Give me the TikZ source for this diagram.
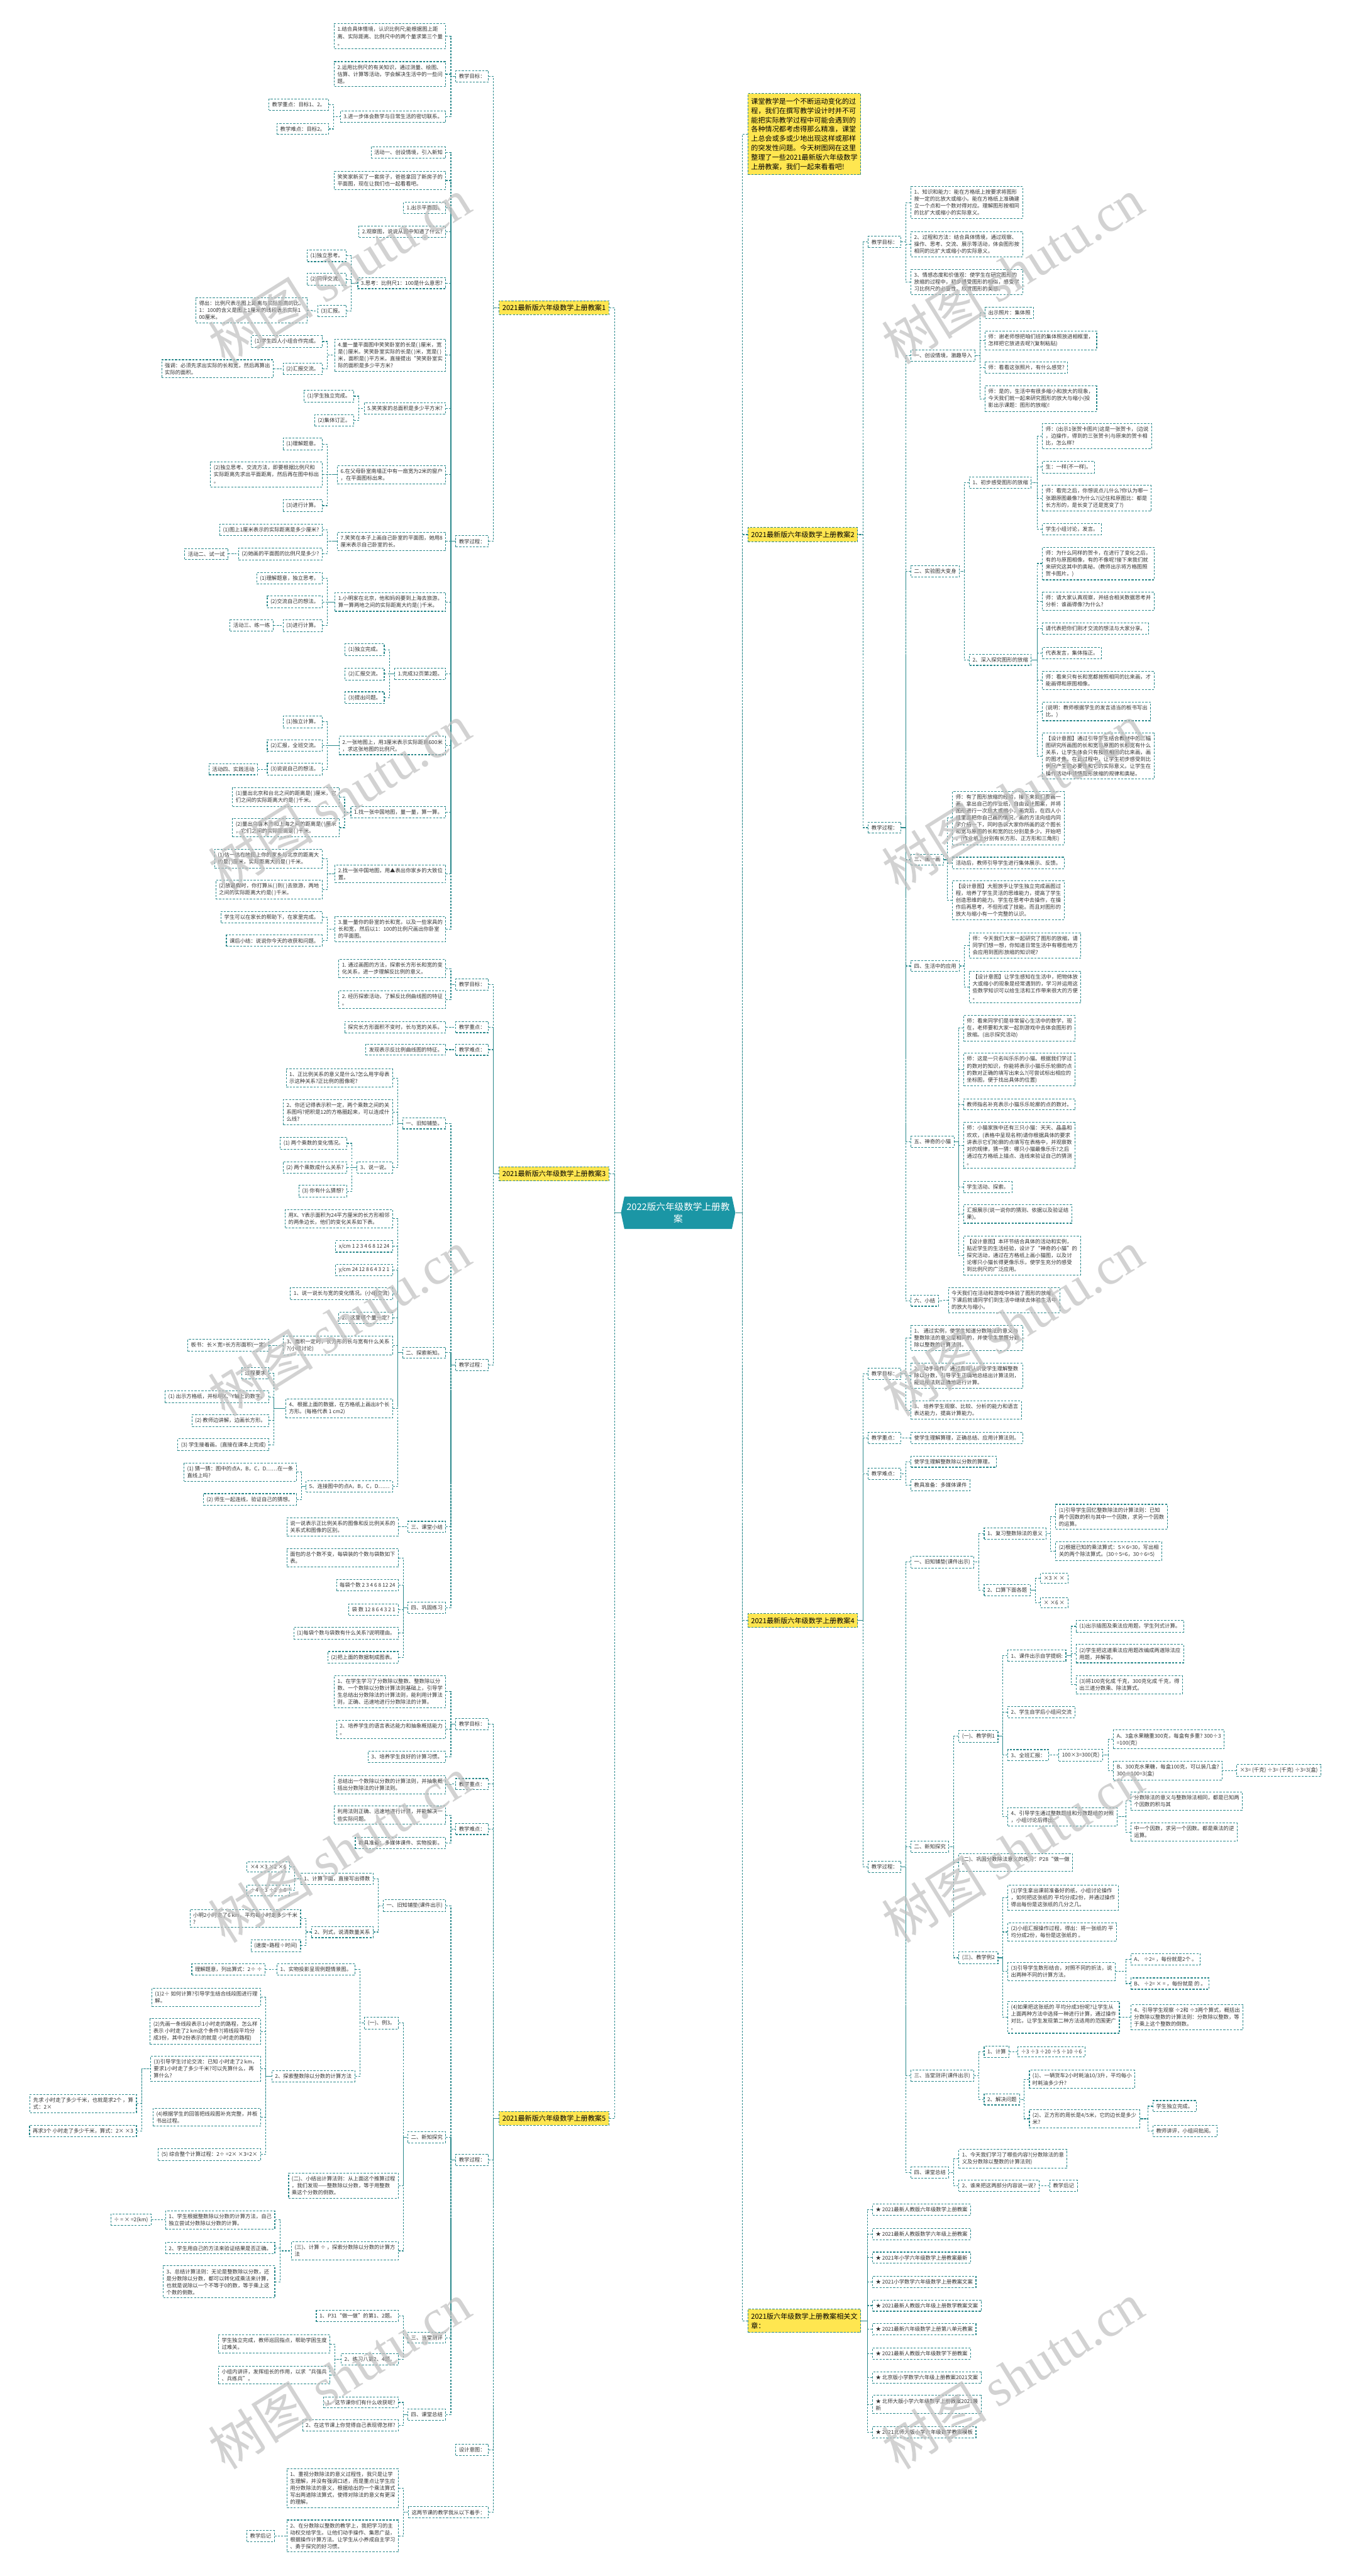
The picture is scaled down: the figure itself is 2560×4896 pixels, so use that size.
\documentclass[tikz,border=0pt]{standalone}
\usepackage{fontspec}
\setmainfont{Noto Sans CJK SC}
\newfontfamily\wmserif{Liberation Serif}
\usetikzlibrary{shapes.symbols}
\definecolor{lk}{HTML}{2A898C}
\definecolor{hl}{HTML}{FFE650}
\definecolor{rt}{HTML}{1B96A5}
\definecolor{tx}{HTML}{333333}
\tikzset{
  link/.style={draw=lk,line width=1.3pt,dash pattern=on 3.5pt off 2.5pt},
  box/.style={draw=lk,line width=1.3pt,dash pattern=on 4pt off 2.5pt,fill=white,text=tx,align=left,inner xsep=6pt,inner ysep=6pt,font=\fontsize{10}{13.2}\selectfont},
  lbox/.style={box,anchor=east},
  rbox/.style={box,anchor=west},
  tag/.style={box,fill=hl,text=black,inner ysep=7pt,font=\fontsize{13.3}{17.9}\selectfont},
  root/.style={shape=signal,signal to=west and east,signal pointer angle=156,fill=rt,text=white,align=center,inner xsep=4pt,inner ysep=11pt,font=\fontsize{17.5}{23.3}\selectfont},
  wm/.style={text=black!25,text opacity=0.7,rotate=32,font=\fontsize{100}{100}\selectfont}
}
\begin{document}
\begin{tikzpicture}[x=1pt,y=-1pt]
\fill[white] (0,0) rectangle (2560,4896);
\useasboundingbox (0,0) rectangle (2560,4896);
\node[root] (root) at (1289,2305) {2022版六年级数学上册教\\案};
% left: 教案1
\node[tag,anchor=east] (L1) at (1158,585) {2021最新版六年级数学上册教案1};
\node[lbox] (L1a) at (929,145) {教学目标：};
\node[lbox] (L1b) at (929,1029) {教学过程：};
\node[lbox] (L1a1) at (848,69) {1.结合具体情境，认识比例尺;能根据图上距\\离、实际距离、比例尺中的两个量求第三个量\\。};
\node[lbox] (L1a2) at (848,141) {2.运用比例尺的有关知识，通过测量、绘图、\\估算、计算等活动，学会解决生活中的一些问\\题。};
\node[lbox] (L1a3) at (848,222) {3.进一步体会数学与日常生活的密切联系。};
\node[lbox] (L1a3a) at (625,199) {教学重点：目标1、2。};
\node[lbox] (L1a3b) at (625,245) {教学难点：目标2。};
\node[lbox] (L1b1) at (848,290) {活动一、创设情境，引入新知};
\node[lbox] (L1b2) at (848,343) {笑笑家新买了一套房子，爸爸拿回了新房子的\\平面图，现在让我们也一起看看吧。};
\node[lbox] (L1b3) at (848,395) {1.出示平面图。};
\node[lbox] (L1b4) at (848,440) {2.观察图，说说从图中知道了什么?};
\node[lbox] (L1b5) at (848,538) {3.思考：比例尺1：100是什么意思?};
\node[lbox] (L1b5a) at (659,486) {(1)独立思考。};
\node[lbox] (L1b5b) at (659,531) {(2)同伴交流。};
\node[lbox] (L1b5c) at (659,591) {(3)汇报。};
\node[lbox] (L1b5d) at (585,590) {得出：比例尺表示图上距离与实际距离的比。\\1：100的含义是图上1厘米的线段表示实际1\\00厘米。};
\node[lbox] (L1b6) at (848,675) {4.量一量平面图中笑笑卧室的长是( )厘米，宽\\是( )厘米。笑笑卧室实际的长是( )米，宽是( )\\米，面积是( )平方米。直接提出“笑笑卧室实\\际的面积是多少平方米?};
\node[lbox] (L1b6a) at (613,649) {(1)学生四人小组合作完成。};
\node[lbox] (L1b6b) at (613,701) {(2)汇报交流。};
\node[lbox] (L1b6c) at (520,701) {强调：必须先求出实际的长和宽，然后再算出\\实际的面积。};
\node[lbox] (L1b7) at (848,776) {5.笑笑家的总面积是多少平方米?};
\node[lbox] (L1b7a) at (673,753) {(1)学生独立完成。};
\node[lbox] (L1b7b) at (673,799) {(2)集体订正。};
\node[lbox] (L1b8) at (848,902) {6.在父母卧室南墙正中有一扇宽为2米的窗户\\，在平面图标出来。};
\node[lbox] (L1b8a) at (613,844) {(1)理解题意。};
\node[lbox] (L1b8b) at (613,902) {(2)独立思考、交流方法，即要根据比例尺和\\实际距离先求出平面距离，然后再在图中标出\\。};
\node[lbox] (L1b8c) at (613,961) {(3)进行计算。};
\node[lbox] (L1b9) at (848,1029) {7.笑笑在本子上画自己卧室的平面图，她用8\\厘米表示自己卧室的长。};
\node[lbox] (L1b9a) at (613,1007) {(1)图上1厘米表示的实际距离是多少厘米?};
\node[lbox] (L1b9b) at (613,1053) {(2)她画的平面图的比例尺是多少?};
\node[lbox] (L1b9c) at (434,1053) {活动二、试一试};
\node[lbox] (L1b10) at (848,1144) {1.小明家在北京，他和妈妈要到上海去旅游。\\算一算两地之间的实际距离大约是( )千米。};
\node[lbox] (L1b10a) at (613,1099) {(1)理解题意，独立思考。};
\node[lbox] (L1b10b) at (613,1144) {(2)交流自己的想法。};
\node[lbox] (L1b10c) at (613,1189) {(3)进行计算。};
\node[lbox] (L1b10d) at (520,1189) {活动三、练一练};
\node[lbox] (L1b11) at (848,1281) {1.完成32页第2题。};
\node[lbox] (L1b11a) at (731,1235) {(1)独立完成。};
\node[lbox] (L1b11b) at (731,1281) {(2)汇报交流。};
\node[lbox] (L1b11c) at (731,1326) {(3)提出问题。};
\node[lbox] (L1b12) at (848,1417) {2.一张地图上，用3厘米表示实际距离600米\\，求这张地图的比例尺。};
\node[lbox] (L1b12a) at (613,1372) {(1)独立计算。};
\node[lbox] (L1b12b) at (613,1417) {(2)汇报，全班交流。};
\node[lbox] (L1b12c) at (613,1462) {(3)说说自己的想法。};
\node[lbox] (L1b12d) at (490,1462) {活动四、实践活动};
\node[lbox] (L1b13) at (848,1544) {1.找一张中国地图，量一量，算一算。};
\node[lbox] (L1b13a) at (646,1515) {(1)量出北京和台北之间的距离是( )厘米，它\\们之间的实际距离大约是( )千米。};
\node[lbox] (L1b13b) at (646,1573) {(2)量出乌鲁木齐和上海之间的距离是( )厘米\\，它们之间的实际距离是( )千米。};
\node[lbox] (L1b14) at (848,1661) {2.找一张中国地图，用▲表出你家乡的大致位\\置。};
\node[lbox] (L1b14a) at (613,1632) {(1)估一估在地图上你的家乡与北京的距离大\\约是( )厘米，实际距离大约是( )千米。};
\node[lbox] (L1b14b) at (613,1691) {(2)放暑假时，你打算从( )到( )去旅游，两地\\之间的实际距离大约是( )千米。};
\node[lbox] (L1b15) at (848,1766) {3.量一量你的卧室的长和宽，以及一些家具的\\长和宽，然后以1：100的比例尺画出你卧室\\的平面图。};
\node[lbox] (L1b15a) at (613,1743) {学生可以在家长的帮助下，在家里完成。};
\node[lbox] (L1b15b) at (613,1788) {课后小结：说说你今天的收获和问题。};
% left: 教案3
\node[tag,anchor=east] (L3) at (1158,2231) {2021最新版六年级数学上册教案3};
\node[lbox] (L3a) at (929,1871) {教学目标：};
\node[lbox] (L3b) at (929,1952) {教学重点：};
\node[lbox] (L3c) at (929,1995) {教学难点：};
\node[lbox] (L3d) at (929,2594) {教学过程：};
\node[lbox] (L3a1) at (848,1841) {1. 通过画图的方法，探索长方形长和宽的变\\化关系，进一步理解反比例的意义。};
\node[lbox] (L3a2) at (848,1900) {2. 经历探索活动，了解反比例曲线图的特征\\。};
\node[lbox] (L3b1) at (848,1952) {探究长方形面积不变时，长与宽的关系。};
\node[lbox] (L3c1) at (848,1995) {发现表示反比例曲线图的特征。};
\node[lbox] (L3d1) at (848,2135) {一、旧知铺垫。};
\node[lbox] (L3d1a) at (747,2049) {1、正比例关系的意义是什么?怎么用字母表\\示这种关系?正比例的图像呢?};
\node[lbox] (L3d1b) at (747,2114) {2、你还记得表示积一定，两个乘数之间的关\\系图吗?把积是12的方格圈起来，可以连成什\\么线?};
\node[lbox] (L3d1c) at (747,2219) {3、说一说。};
\node[lbox] (L3d1c1) at (660,2173) {(1) 两个乘数的变化情况。};
\node[lbox] (L3d1c2) at (660,2219) {(2) 两个乘数成什么关系?};
\node[lbox] (L3d1c3) at (660,2264) {(3) 你有什么猜想?};
\node[lbox] (L3d2) at (848,2571) {二、探索新知。};
\node[lbox] (L3d2a) at (747,2316) {用X、Y表示面积为24平方厘米的长方形相邻\\的两条边长，他们的变化关系如下表。};
\node[lbox] (L3d2b) at (747,2369) {x/cm 1 2 3 4 6 8 12 24};
\node[lbox] (L3d2c) at (747,2414) {y/cm 24 12 8 6 4 3 2 1};
\node[lbox] (L3d2d) at (747,2459) {1、说一说长与宽的变化情况。(小组交流)};
\node[lbox] (L3d2e) at (747,2505) {2、这里哪个量一定?};
\node[lbox] (L3d2f) at (747,2557) {3、面积一定时，长方形的长与宽有什么关系\\?(小组讨论)};
\node[lbox] (L3d2f1) at (512,2557) {板书：长×宽=长方形面积(一定)};
\node[lbox] (L3d2g) at (747,2677) {4、根据上面的数据，在方格纸上画出8个长\\方形。(每格代表 1 cm2)};
\node[lbox] (L3d2g1) at (512,2610) {过程要求};
\node[lbox] (L3d2g2) at (512,2655) {(1) 出示方格纸，并标明X、Y轴上的数字。};
\node[lbox] (L3d2g3) at (512,2700) {(2) 教师边讲解，边画长方形。};
\node[lbox] (L3d2g4) at (512,2746) {(3) 学生接着画。(直接在课本上完成)};
\node[lbox] (L3d2h) at (747,2825) {5、连接图中的点A，B，C，D……};
\node[lbox] (L3d2h1) at (564,2798) {(1) 猜一猜：图中的点A，B，C，D……在一条\\直线上吗?};
\node[lbox] (L3d2h2) at (564,2850) {(2) 师生一起连线，验证自己的猜想。};
\node[lbox] (L3d3) at (848,2902) {三、课堂小结};
\node[lbox] (L3d3a) at (758,2902) {说一说表示正比例关系的图像和反比例关系的\\关系式和图像的区别。};
\node[lbox] (L3d4) at (848,3056) {四、巩固练习};
\node[lbox] (L3d4a) at (758,2961) {面包的总个数不变，每袋装的个数与袋数如下\\表。};
\node[lbox] (L3d4b) at (758,3013) {每袋个数 2 3 4 6 8 12 24};
\node[lbox] (L3d4c) at (758,3059) {袋 数 12 8 6 4 3 2 1};
\node[lbox] (L3d4d) at (758,3104) {(1)每袋个数与袋数有什么关系?说明理由。};
\node[lbox] (L3d4e) at (758,3150) {(2)把上面的数据制成图表。};
% left: 教案5
\node[tag,anchor=east] (L5) at (1158,4026) {2021最新版六年级数学上册教案5};
\node[lbox] (L5a) at (929,3277) {教学目标：};
\node[lbox] (L5b) at (929,3391) {教学重点：};
\node[lbox] (L5c) at (929,3476) {教学难点：};
\node[lbox] (L5d) at (929,4105) {教学过程：};
\node[lbox] (L5e) at (929,4656) {设计意图：};
\node[lbox] (L5f) at (929,4775) {这两节课的教学我从以下着手：};
\node[lbox] (L5a1) at (848,3215) {1、在学生学习了分数除以整数、整数除以分\\数、一个数除以分数计算法则基础上，引导学\\生总结出分数除法的计算法则，能利用计算法\\则，正确、迅速地进行分数除法的计算。};
\node[lbox] (L5a2) at (848,3287) {2、培养学生的语言表达能力和抽象概括能力\\。};
\node[lbox] (L5a3) at (848,3339) {3、培养学生良好的计算习惯。};
\node[lbox] (L5b1) at (848,3392) {总结出一个数除以分数的计算法则，并抽象概\\括出分数除法的计算法则。};
\node[lbox] (L5c1) at (848,3450) {利用法则正确、迅速地进行计算，并能解决一\\些实际问题。};
\node[lbox] (L5c2) at (848,3503) {教具准备：多媒体课件、实物投影。};
\node[lbox] (L5d1) at (848,3622) {一、旧知铺垫(课件出示)};
\node[lbox] (L5d1a) at (710,3571) {1、计算下面，直接写出得数};
\node[lbox] (L5d1a1) at (551,3548) {×4 ×3 ×2 ×6};
\node[lbox] (L5d1a2) at (551,3593) {÷4 ÷3 ÷2 ÷6};
\node[lbox] (L5d1b) at (710,3672) {2、列式，说清数量关系};
\node[lbox] (L5d1b1) at (572,3646) {小明2小时走了6 km，平均每小时走多少千米\\?};
\node[lbox] (L5d1b2) at (572,3698) {(速度=路程÷时间)};
\node[lbox] (L5d2) at (848,4062) {二、新知探究};
\node[lbox] (L5d2a) at (758,3845) {(一)、例3。};
\node[lbox] (L5d2a1) at (675,3743) {1、实物投影呈现例题情景图。};
\node[lbox] (L5d2a1a) at (505,3743) {理解题意，列出算式：2÷ ÷};
\node[lbox] (L5d2a2) at (675,3946) {2、探索整数除以分数的计算方法};
\node[lbox] (L5d2a2a) at (496,3796) {(1)2÷ 如何计算?引导学生结合线段图进行理\\解。};
\node[lbox] (L5d2a2b) at (496,3861) {(2)先画一条线段表示1小时走的路程，怎么样\\表示 小时走了2 km这个条件?(将线段平均分\\成3份，其中2份表示的就是 小时走的路程)};
\node[lbox] (L5d2a2c) at (496,3932) {(3)引导学生讨论交流：已知 小时走了2 km，\\要求1小时走了多少千米?可以先算什么，再\\算什么?};
\node[lbox] (L5d2a2c1) at (260,3998) {先求 小时走了多少千米，也就是求2个 ，算\\式：2×};
\node[lbox] (L5d2a2c2) at (260,4050) {再求3个 小时走了多少千米，算式：2× ×3};
\node[lbox] (L5d2a2d) at (496,4024) {(4)根据学生的回答把线段图补充完整，并板\\书出过程。};
\node[lbox] (L5d2a2e) at (496,4095) {(5) 综合整个计算过程：2÷ =2× ×3=2×};
\node[lbox] (L5d2b) at (758,4154) {(二)、小结出计算法则：从上面这个推算过程\\，我们发现——整数除以分数，等于用整数\\乘这个分数的倒数。};
\node[lbox] (L5d2c) at (758,4278) {(三)、计算 ÷ ，探索分数除以分数的计算方\\法};
\node[lbox] (L5d2c1) at (523,4219) {1、学生根据整数除以分数的计算方法，自己\\独立尝试分数除以分数的计算。};
\node[lbox] (L5d2c1a) at (288,4219) {÷ = × =2(km)};
\node[lbox] (L5d2c2) at (523,4273) {2、学生用自己的方法来验证结果是否正确。};
\node[lbox] (L5d2c3) at (523,4337) {3、总结计算法则：无论是整数除以分数，还\\是分数除以分数，都可以转化成乘法来计算，\\也就是说除以一个不等于0的数，等于乘上这\\个数的倒数。};
\node[lbox] (L5d3) at (848,4443) {三、当堂测评};
\node[lbox] (L5d3a) at (758,4402) {1、P31“做一做”的第1、2题。};
\node[lbox] (L5d3b) at (758,4484) {2、练习八第2、4题。};
\node[lbox] (L5d3b1) at (628,4455) {学生独立完成，教师巡回指点，帮助学困生度\\过难关。};
\node[lbox] (L5d3b2) at (628,4514) {小组内讲评，发挥组长的作用，以求“兵强兵\\、兵练兵”。};
\node[lbox] (L5d4) at (848,4589) {四、课堂总结};
\node[lbox] (L5d4a) at (758,4566) {1、这节课你们有什么收获呢?};
\node[lbox] (L5d4b) at (758,4610) {2、在这节课上你觉得自己表现得怎样?};
\node[lbox] (L5f1) at (758,4729) {1、重视分数除法的意义过程性，我只是让学\\生理解，并没有强调口述，而是重点让学生应\\用分数除法的意义，根据给出的一个乘法算式\\写出两道除法算式，使得对除法的意义有更深\\的理解。};
\node[lbox] (L5f2) at (758,4820) {2、在分数除以整数的教学上，我把学习的主\\动权交给学生。让他们动手操作、集思广益，\\根据操作计算方法。让学生从小养成自主学习\\、勇于探究的好习惯。};
\node[lbox] (L5f2a) at (522,4820) {教学后记};
% right: intro and 教案2
\node[tag,anchor=west,align=left,inner ysep=8pt] (R0) at (1421,255) {课堂教学是一个不断运动变化的过\\程，我们在撰写教学设计时并不可\\能把实际教学过程中可能会遇到的\\各种情况都考虑得那么精准，课堂\\上总会或多或少地出现这样或那样\\的突发性问题。今天树图网在这里\\整理了一些2021最新版六年级数学\\上册教案，我们一起来看看吧!};
\node[tag,anchor=west] (R2) at (1421,1016) {2021最新版六年级数学上册教案2};
\node[rbox] (R2a) at (1650,460) {教学目标：};
\node[rbox] (R2b) at (1650,1573) {教学过程：};
\node[rbox] (R2a1) at (1731,385) {1、知识和能力：能在方格纸上按要求将图形\\按一定的比放大或缩小。能在方格纸上准确建\\立一个点和一个数对得对应。理解图形按相同\\的比扩大或缩小的实际意义。};
\node[rbox] (R2a2) at (1731,464) {2、过程和方法：结合具体情境，通过观察、\\操作、思考、交流、展示等活动，体会图形按\\相同的比扩大或缩小的实际意义。};
\node[rbox] (R2a3) at (1731,536) {3、情感态度和价值观：使学生在研究图形的\\放缩的过程中，初步感受图形的相似，感受学\\习比例尺的必要性。欣赏图形的美感。};
\node[rbox] (R2b1) at (1731,676) {一、创设情境，激趣导入};
\node[rbox] (R2b1a) at (1872,595) {出示照片：集体照};
\node[rbox] (R2b1b) at (1872,647) {师：谢老师想把咱们班的集体照放进相框里，\\怎样把它放进去呢?(复制粘贴)};
\node[rbox] (R2b1c) at (1872,699) {师：看看这张照片，有什么感觉?};
\node[rbox] (R2b1d) at (1872,758) {师：是的，生活中有很多缩小和放大的现象，\\今天我们就一起来研究图形的放大与缩小(投\\影出示课题：图形的放缩)!};
\node[rbox] (R2b2) at (1731,1086) {二、实验图大变身};
\node[rbox] (R2b2a) at (1842,917) {1、初步感受图形的放缩};
\node[rbox] (R2b2a1) at (1981,829) {师：(出示1张贺卡图片)这是一张贺卡，(边说\\，边操作，得到的三张贺卡)与原来的贺卡相\\比，怎么样?};
\node[rbox] (R2b2a2) at (1981,888) {生：一样(不一样)。};
\node[rbox] (R2b2a3) at (1981,947) {师：看完之后，你想说点儿什么?你认为哪一\\张跟原图最像?为什么?(记住和原图比：都是\\长方形的，是长变了还是宽变了?)};
\node[rbox] (R2b2a4) at (1981,1006) {学生小组讨论，发言。};
\node[rbox] (R2b2b) at (1842,1254) {2、深入探究图形的放缩};
\node[rbox] (R2b2b1) at (1981,1071) {师：为什么同样的贺卡，在进行了变化之后，\\有的与原图相像，有的不像呢?接下来我们就\\来研究这其中的奥秘。(教师出示将方格图照\\贺卡图片。)};
\node[rbox] (R2b2b2) at (1981,1143) {师：请大家认真观察，并结合相关数据思考并\\分析：谁画得像?为什么?};
\node[rbox] (R2b2b3) at (1981,1195) {请代表把你们刚才交流的想法与大家分享。};
\node[rbox] (R2b2b4) at (1981,1241) {代表发言，集体指正。};
\node[rbox] (R2b2b5) at (1981,1293) {师：看来只有长和宽都按照相同的比来画，才\\能画得和原图相像。};
\node[rbox] (R2b2b6) at (1981,1352) {(说明：教师根据学生的发言适当的板书写出\\比。)};
\node[rbox] (R2b2b7) at (1981,1437) {【设计意图】通过引导学生结合教材中的三幅\\图研究所画图的长和宽与原图的长和宽有什么\\关系，让学生体会只有按照相同的比来画，画\\的图才像。在此过程中，让学生初步感受到比\\例尺产生的必要性和它的实际意义。让学生在\\操作活动中领悟图形放缩的规律和奥秘。};
\node[rbox] (R2b3) at (1731,1634) {三、画一画};
\node[rbox] (R2b3a) at (1810,1555) {师：有了图形放缩的经验，接下来我们要画一\\画。拿出自己的作业纸，自由设计图案，并将\\图形进行一次放大或缩小，画完后，在四人小\\组里面把你自己画的情况、画的方法向组内同\\学介绍一下，同时告诉大家你所画的这个图长\\和宽与原图的长和宽的比分别是多少。开始吧\\。(作业纸上分别有长方形、正方形和三角形)};
\node[rbox] (R2b3b) at (1810,1640) {活动后，教师引导学生进行集体展示、反馈。};
\node[rbox] (R2b3c) at (1810,1711) {【设计意图】大胆放手让学生独立完成画图过\\程，培养了学生灵活的思维能力，提高了学生\\创造思维的能力。学生在思考中去操作，在操\\作后再思考，不但形成了技能。而且对图形的\\放大与缩小有一个完整的认识。};
\node[rbox] (R2b4) at (1731,1836) {四、生活中的应用};
\node[rbox] (R2b4a) at (1842,1797) {师：今天我们大家一起研究了图形的放缩，请\\同学们想一想，你知道日常生活中有哪些地方\\会应用到图形放缩的知识呢?};
\node[rbox] (R2b4b) at (1842,1876) {【设计意图】让学生感知在生活中，把物体放\\大或缩小的现象是经常遇到的，学习并运用这\\些数学知识可以给生活和工作带来很大的方便\\。};
\node[rbox] (R2b5) at (1731,2170) {五、神奇的小猫};
\node[rbox] (R2b5a) at (1831,1954) {师：看来同学们是非常留心生活中的数学，现\\在，老师要和大家一起到游戏中去体会图形的\\放缩。(出示探究活动)};
\node[rbox] (R2b5b) at (1831,2033) {师：这是一只名叫乐乐的小猫。根据我们学过\\的数对的知识，你能将表示小猫乐乐轮廓的点\\的数对正确的填写出来么?(可尝试标出相应的\\坐标图，便于找出具体的位置)};
\node[rbox] (R2b5c) at (1831,2099) {教师指名补充表示小猫乐乐轮廓的点的数对。};
\node[rbox] (R2b5d) at (1831,2177) {师：小猫家族中还有三只小猫：天天、晶晶和\\欢欢，(表格中呈现名称)请你根据具体的要求\\讲表示它们轮廓的点填写在表格中，并观察数\\对的规律，猜一猜：哪只小猫最像乐乐?之后\\通过在方格纸上描点、连线来验证自己的猜测\\。};
\node[rbox] (R2b5e) at (1831,2256) {学生活动、探索。};
\node[rbox] (R2b5f) at (1831,2307) {汇报展示(说一说你的猜测、依据以及验证结\\果)。};
\node[rbox] (R2b5g) at (1831,2386) {【设计意图】本环节结合具体的活动和实例，\\贴近学生的生活经验，设计了“神奇的小猫”的\\探究活动，通过在方格纸上画小猫图，以及讨\\论哪只小猫长得更像乐乐，使学生充分的感受\\到比例尺的广泛应用。};
\node[rbox] (R2b6) at (1731,2472) {六、小结};
\node[rbox] (R2b6a) at (1802,2471) {今天我们在活动和游戏中体验了图形的放缩，\\下课后就请同学们到生活中继续去体验生活中\\的放大与缩小。};
% right: 教案4
\node[tag,anchor=west] (R4) at (1421,3080) {2021最新版六年级数学上册教案4};
\node[rbox] (R4a) at (1650,2611) {教学目标：};
\node[rbox] (R4b) at (1650,2733) {教学重点：};
\node[rbox] (R4c) at (1650,2801) {教学难点：};
\node[rbox] (R4d) at (1650,3548) {教学过程：};
\node[rbox] (R4a1) at (1731,2543) {1、 通过实例，使学生知道分数除法的意义与\\整数除法的意义是相同的，并使学生掌握分数\\除以整数的计算法则。};
\node[rbox] (R4a2) at (1731,2615) {2、 动手操作，通过直观认识使学生理解整数\\除以分数，引导学生正确地总结出计算法则，\\能运用法则正确地进行计算。};
\node[rbox] (R4a3) at (1731,2680) {3、 培养学生观察、比较、分析的能力和语言\\表达能力，提高计算能力。};
\node[rbox] (R4b1) at (1731,2733) {使学生理解算理，正确总结、应用计算法则。};
\node[rbox] (R4c1) at (1731,2778) {使学生理解整数除以分数的算理。};
\node[rbox] (R4c2) at (1731,2823) {教具准备：多媒体课件};
\node[rbox] (R4d1) at (1731,2969) {一、旧知铺垫(课件出示)};
\node[rbox] (R4d1a) at (1870,2915) {1、复习整数除法的意义};
\node[rbox] (R4d1a1) at (2006,2883) {(1)引导学生回忆整数除法的计算法则：已知\\两个因数的积与其中一个因数，求另一个因数\\的运算。};
\node[rbox] (R4d1a2) at (2006,2948) {(2)根据已知的乘法算式：5×6=30，写出相\\关的两个除法算式。(30÷5=6，30÷6=5)};
\node[rbox] (R4d1b) at (1870,3022) {2、口算下面各题};
\node[rbox] (R4d1b1) at (1977,3000) {×3 × ×};
\node[rbox] (R4d1b2) at (1977,3046) {× ×6 ×};
\node[rbox] (R4d2) at (1731,3510) {二、新知探究};
\node[rbox] (R4d2a) at (1822,3300) {(一)、教学例1};
\node[rbox] (R4d2a1) at (1915,3147) {1、课件出示自学提纲:};
\node[rbox] (R4d2a1a) at (2045,3091) {(1)出示插图及乘法应用题，学生列式计算。};
\node[rbox] (R4d2a1b) at (2045,3143) {(2)学生把这道乘法应用题改编成两道除法应\\用题，并解答。};
\node[rbox] (R4d2a1c) at (2045,3202) {(3)将100克化成 千克，300克化成 千克，得\\出三道分数乘、除法算式。};
\node[rbox] (R4d2a2) at (1915,3254) {2、学生自学后小组间交流};
\node[rbox] (R4d2a3) at (1915,3336) {3、全班汇报：};
\node[rbox] (R4d2a3a) at (2012,3336) {100×3=300(克)};
\node[rbox] (R4d2a3a1) at (2116,3306) {A、3盒水果糖重300克，每盒有多重? 300÷3\\=100(克)};
\node[rbox] (R4d2a3a2) at (2116,3365) {B、300克水果糖，每盒100克，可以装几盒?\\300÷100=3(盒)};
\node[rbox] (R4d2a3a2a) at (2350,3365) {×3= (千克) ÷3= (千克) ÷3=3(盒)};
\node[rbox] (R4d2a4) at (1915,3453) {4、引导学生通过整数题组和分数题组的对照\\，小组讨论后得出:};
\node[rbox] (R4d2a4a) at (2149,3423) {分数除法的意义与整数除法相同，都是已知两\\个因数的积与其};
\node[rbox] (R4d2a4b) at (2149,3482) {中一个因数，求另一个因数。都是乘法的逆\\运算。};
\node[rbox] (R4d2b) at (1822,3540) {(二)、巩固分数除法意义的练习：P28“做一做\\”};
\node[rbox] (R4d2c) at (1822,3721) {(三)、教学例2};
\node[rbox] (R4d2c1) at (1915,3607) {(1)学生拿出课前准备好的纸，小组讨论操作\\，如何把这张纸的 平均分成2份，并通过操作\\得出每份是这张纸的几分之几。};
\node[rbox] (R4d2c2) at (1915,3672) {(2)小组汇报操作过程，得出：将一张纸的 平\\均分成2份，每份是这张纸的 。};
\node[rbox] (R4d2c3) at (1915,3747) {(3)引导学生数形结合，对照不同的折法，说\\出两种不同的计算方法。};
\node[rbox] (R4d2c3a) at (2149,3724) {A、 ÷2= ，每份就是2个 。};
\node[rbox] (R4d2c3b) at (2149,3770) {B、 ÷2= × = ，每份就是 的 。};
\node[rbox] (R4d2c4) at (1915,3834) {(4)如果把这张纸的 平均分成3份呢?让学生从\\上面两种方法中选择一种进行计算，通过操作\\对比，让学生发现第二种方法适用的范围更广\\。};
\node[rbox] (R4d2c4a) at (2149,3834) {4、引导学生观察 ÷2和 ÷3两个算式，概括出\\分数除以整数的计算法则：分数除以整数，等\\于乘上这个整数的倒数。};
\node[rbox] (R4d3) at (1731,3945) {三、当堂测评(课件出示)};
\node[rbox] (R4d3a) at (1870,3900) {1、计算};
\node[rbox] (R4d3a1) at (1934,3900) {÷3 ÷3 ÷20 ÷5 ÷10 ÷6};
\node[rbox] (R4d3b) at (1870,3990) {2、解决问题};
\node[rbox] (R4d3b1) at (1956,3952) {(1)、一辆货车2小时耗油10/3升，平均每小\\时耗油多少升?};
\node[rbox] (R4d3b2) at (1956,4027) {(2)、正方形的周长是4/5米，它的边长是多少\\米?};
\node[rbox] (R4d3b2a) at (2191,4003) {学生独立完成。};
\node[rbox] (R4d3b2b) at (2191,4050) {教师讲评，小组间批阅。};
\node[rbox] (R4d4) at (1731,4129) {四、课堂总结};
\node[rbox] (R4d4a) at (1822,4103) {1、今天我们学习了哪些内容?(分数除法的意\\义及分数除以整数的计算法则)};
\node[rbox] (R4d4b) at (1822,4154) {2、谁来把这两部分内容说一说?};
\node[rbox] (R4d4b1) at (1995,4154) {教学后记};
% right: 相关文章
\node[tag,anchor=west,align=left] (R6) at (1421,4411) {2021版六年级数学上册教案相关文\\章：};
\node[rbox] (R6a) at (1658,4200) {★ 2021最新人教版六年级数学上册教案};
\node[rbox] (R6b) at (1658,4246) {★ 2021最新人教版数学六年级上册教案};
\node[rbox] (R6c) at (1658,4291) {★ 2021年小学六年级数学上册教案最新};
\node[rbox] (R6d) at (1658,4337) {★ 2021小学数学六年级数学上册教案文案};
\node[rbox] (R6e) at (1658,4382) {★ 2021最新人教版六年级上册数学教案文案};
\node[rbox] (R6f) at (1658,4427) {★ 2021最新六年级数学上册第八单元教案};
\node[rbox] (R6g) at (1658,4473) {★ 2021最新人教版六年级数学下册教案};
\node[rbox] (R6h) at (1658,4519) {★ 北京版小学数学六年级上册教案2021文案};
\node[rbox] (R6i) at (1658,4570) {★ 北师大版小学六年级数学上册教案2021最\\新};
\node[rbox] (R6j) at (1658,4623) {★ 2021北师大版小学六年级数学教案模板};
% connectors
\foreach \c in {L1,L3,L5} \draw[link] (\c.east) -- ++(10,0) |- (root.west);
\foreach \c in {R0,R2,R4,R6} \draw[link] (\c.west) -- ++(-10,0) |- (root.east);
\foreach \p/\c in {L1/L1a,L1/L1b,L1a/L1a1,L1a/L1a2,L1a/L1a3,L1a3/L1a3a,L1a3/L1a3b,
  L1b/L1b1,L1b/L1b2,L1b/L1b3,L1b/L1b4,L1b/L1b5,L1b/L1b6,L1b/L1b7,L1b/L1b8,L1b/L1b9,L1b/L1b10,L1b/L1b11,L1b/L1b12,L1b/L1b13,L1b/L1b14,L1b/L1b15,
  L1b5/L1b5a,L1b5/L1b5b,L1b5/L1b5c,L1b5c/L1b5d,L1b6/L1b6a,L1b6/L1b6b,L1b6b/L1b6c,L1b7/L1b7a,L1b7/L1b7b,
  L1b8/L1b8a,L1b8/L1b8b,L1b8/L1b8c,L1b9/L1b9a,L1b9/L1b9b,L1b9b/L1b9c,L1b10/L1b10a,L1b10/L1b10b,L1b10/L1b10c,L1b10c/L1b10d,
  L1b11/L1b11a,L1b11/L1b11b,L1b11/L1b11c,L1b12/L1b12a,L1b12/L1b12b,L1b12/L1b12c,L1b12c/L1b12d,
  L1b13/L1b13a,L1b13/L1b13b,L1b14/L1b14a,L1b14/L1b14b,L1b15/L1b15a,L1b15/L1b15b,
  L3/L3a,L3/L3b,L3/L3c,L3/L3d,L3a/L3a1,L3a/L3a2,L3b/L3b1,L3c/L3c1,L3d/L3d1,L3d/L3d2,L3d/L3d3,L3d/L3d4,
  L3d1/L3d1a,L3d1/L3d1b,L3d1/L3d1c,L3d1c/L3d1c1,L3d1c/L3d1c2,L3d1c/L3d1c3,
  L3d2/L3d2a,L3d2/L3d2b,L3d2/L3d2c,L3d2/L3d2d,L3d2/L3d2e,L3d2/L3d2f,L3d2/L3d2g,L3d2/L3d2h,L3d2f/L3d2f1,
  L3d2g/L3d2g1,L3d2g/L3d2g2,L3d2g/L3d2g3,L3d2g/L3d2g4,L3d2h/L3d2h1,L3d2h/L3d2h2,L3d3/L3d3a,
  L3d4/L3d4a,L3d4/L3d4b,L3d4/L3d4c,L3d4/L3d4d,L3d4/L3d4e,
  L5/L5a,L5/L5b,L5/L5c,L5/L5d,L5/L5e,L5/L5f,L5a/L5a1,L5a/L5a2,L5a/L5a3,L5b/L5b1,L5c/L5c1,L5c/L5c2,
  L5d/L5d1,L5d/L5d2,L5d/L5d3,L5d/L5d4,L5d1/L5d1a,L5d1/L5d1b,L5d1a/L5d1a1,L5d1a/L5d1a2,L5d1b/L5d1b1,L5d1b/L5d1b2,
  L5d2/L5d2a,L5d2/L5d2b,L5d2/L5d2c,L5d2a/L5d2a1,L5d2a/L5d2a2,L5d2a1/L5d2a1a,
  L5d2a2/L5d2a2a,L5d2a2/L5d2a2b,L5d2a2/L5d2a2c,L5d2a2/L5d2a2d,L5d2a2/L5d2a2e,L5d2a2c/L5d2a2c1,L5d2a2c/L5d2a2c2,
  L5d2c/L5d2c1,L5d2c/L5d2c2,L5d2c/L5d2c3,L5d2c1/L5d2c1a,L5d3/L5d3a,L5d3/L5d3b,L5d3b/L5d3b1,L5d3b/L5d3b2,
  L5d4/L5d4a,L5d4/L5d4b,L5f/L5f1,L5f/L5f2,L5f2/L5f2a}
  \draw[link] (\c.east) -- ++(9,0) |- (\p.west);
\foreach \p/\c in {R2/R2a,R2/R2b,R2a/R2a1,R2a/R2a2,R2a/R2a3,R2b/R2b1,R2b/R2b2,R2b/R2b3,R2b/R2b4,R2b/R2b5,R2b/R2b6,
  R2b1/R2b1a,R2b1/R2b1b,R2b1/R2b1c,R2b1/R2b1d,R2b2/R2b2a,R2b2/R2b2b,
  R2b2a/R2b2a1,R2b2a/R2b2a2,R2b2a/R2b2a3,R2b2a/R2b2a4,
  R2b2b/R2b2b1,R2b2b/R2b2b2,R2b2b/R2b2b3,R2b2b/R2b2b4,R2b2b/R2b2b5,R2b2b/R2b2b6,R2b2b/R2b2b7,
  R2b3/R2b3a,R2b3/R2b3b,R2b3/R2b3c,R2b4/R2b4a,R2b4/R2b4b,
  R2b5/R2b5a,R2b5/R2b5b,R2b5/R2b5c,R2b5/R2b5d,R2b5/R2b5e,R2b5/R2b5f,R2b5/R2b5g,R2b6/R2b6a,
  R4/R4a,R4/R4b,R4/R4c,R4/R4d,R4a/R4a1,R4a/R4a2,R4a/R4a3,R4b/R4b1,R4c/R4c1,R4c/R4c2,
  R4d/R4d1,R4d/R4d2,R4d/R4d3,R4d/R4d4,R4d1/R4d1a,R4d1/R4d1b,R4d1a/R4d1a1,R4d1a/R4d1a2,R4d1b/R4d1b1,R4d1b/R4d1b2,
  R4d2/R4d2a,R4d2/R4d2b,R4d2/R4d2c,R4d2a/R4d2a1,R4d2a/R4d2a2,R4d2a/R4d2a3,R4d2a/R4d2a4,
  R4d2a1/R4d2a1a,R4d2a1/R4d2a1b,R4d2a1/R4d2a1c,R4d2a3/R4d2a3a,R4d2a3a/R4d2a3a1,R4d2a3a/R4d2a3a2,R4d2a3a2/R4d2a3a2a,
  R4d2a4/R4d2a4a,R4d2a4/R4d2a4b,R4d2c/R4d2c1,R4d2c/R4d2c2,R4d2c/R4d2c3,R4d2c/R4d2c4,
  R4d2c3/R4d2c3a,R4d2c3/R4d2c3b,R4d2c4/R4d2c4a,R4d3/R4d3a,R4d3/R4d3b,R4d3a/R4d3a1,R4d3b/R4d3b1,R4d3b/R4d3b2,
  R4d3b2/R4d3b2a,R4d3b2/R4d3b2b,R4d4/R4d4a,R4d4/R4d4b,R4d4b/R4d4b1,
  R6/R6a,R6/R6b,R6/R6c,R6/R6d,R6/R6e,R6/R6f,R6/R6g,R6/R6h,R6/R6i,R6/R6j}
  \draw[link] (\c.west) -- ++(-9,0) |- (\p.east);
% watermark
\foreach \y [count=\i] in {515,1515,2515,3515,4515} {
  \node[wm] (wl\i) at (645,\y) {树图 {\wmserif shutu.cn}};
  \node[wm] (wr\i) at (1925,\y) {树图 {\wmserif shutu.cn}};
}
\end{tikzpicture}
\end{document}
